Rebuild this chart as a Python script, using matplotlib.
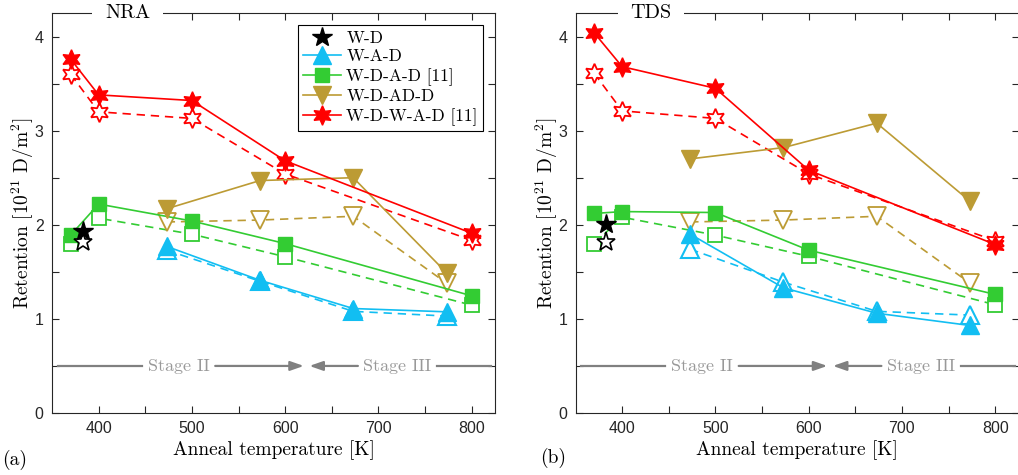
import matplotlib
matplotlib.use("Agg")
import matplotlib.pyplot as plt

plt.rcParams['mathtext.fontset'] = 'cm'
plt.rcParams['axes.formatter.use_mathtext'] = True

# ---------------- data ----------------
temp_wd = [383]
temp_wwad = [370, 400, 500, 600, 800]
temp_wdad = [370, 400, 500, 600, 800]
temp_wad = [473, 573, 673, 773]
temp_wdadd = [473, 573, 673, 773]

# NRA (panel a)
nra_wd_fill = [1.93]
nra_wd_open = [1.82]
nra_wad_fill = [1.77, 1.41, 1.11, 1.075]
nra_wad_open = [1.73, 1.40, 1.08, 1.03]
nra_wdad_fill = [1.89, 2.22, 2.04, 1.80, 1.245]
nra_wdad_open = [1.80, 2.07, 1.90, 1.66, 1.146]
nra_wdadd_fill = [2.17, 2.47, 2.50, 1.49]
nra_wdadd_open = [2.03, 2.05, 2.09, 1.38]
nra_wwad_fill = [3.76, 3.38, 3.32, 2.68, 1.91]
nra_wwad_open = [3.60, 3.20, 3.13, 2.54, 1.835]

# TDS (panel b)
tds_wd_fill = [2.01]
tds_wd_open = [1.82]
tds_wad_fill = [1.90, 1.33, 1.06, 0.93]
tds_wad_open = [1.74, 1.39, 1.08, 1.04]
tds_wdad_fill = [2.12, 2.14, 2.13, 1.73, 1.26]
tds_wdad_open = [1.80, 2.08, 1.89, 1.665, 1.15]
tds_wdadd_fill = [2.70, 2.82, 3.08, 2.25]
tds_wdadd_open = [2.03, 2.05, 2.09, 1.38]
tds_wwad_fill = [4.04, 3.68, 3.45, 2.58, 1.79]
tds_wwad_open = [3.61, 3.21, 3.13, 2.54, 1.83]

labels = ['W-D', 'W-A-D', 'W-D-A-D [11]', 'W-D-AD-D', 'W-D-W-A-D [11]']
titles = ['NRA', 'TDS']
panel_tags = ['(a)', '(b)']

# ---------------- style ----------------
c_black = 'black'
c_cyan = '#12BEF2'
c_green = '#33CC33'
c_gold = '#BC9B34'
c_red = '#FF0000'
gray_line = '#808080'
gray_text = '#999999'
serif = 'cmr10'
hexagram = (6, 1, 0)

fig = plt.figure(figsize=(10.18, 4.75), dpi=100)
ax_a = fig.add_axes([52/1018, 62/475, 443/1018, 400/475])
ax_b = fig.add_axes([575.5/1018, 62/475, 443/1018, 400/475])

datasets = [
    (nra_wd_fill, nra_wd_open, nra_wad_fill, nra_wad_open, nra_wdad_fill, nra_wdad_open,
     nra_wdadd_fill, nra_wdadd_open, nra_wwad_fill, nra_wwad_open),
    (tds_wd_fill, tds_wd_open, tds_wad_fill, tds_wad_open, tds_wdad_fill, tds_wdad_open,
     tds_wdadd_fill, tds_wdadd_open, tds_wwad_fill, tds_wwad_open),
]

lw = 1.2
dash = (0, (5, 3.5))

for i, (ax, d) in enumerate(zip([ax_a, ax_b], datasets)):
    (wd_f, wd_o, wad_f, wad_o, wdad_f, wdad_o, wdadd_f, wdadd_o, wwad_f, wwad_o) = d
    # dashed / open series
    ax.plot(temp_wad, wad_o, ls=dash, color=c_cyan, lw=lw, marker='^', ms=13,
            mfc='white', mec=c_cyan, mew=1.5, zorder=3)
    ax.plot(temp_wdad, wdad_o, ls=dash, color=c_green, lw=lw, marker='s', ms=10,
            mfc='white', mec=c_green, mew=1.3, zorder=3)
    ax.plot(temp_wdadd, wdadd_o, ls=dash, color=c_gold, lw=lw, marker='v', ms=13,
            mfc='white', mec=c_gold, mew=1.3, zorder=3)
    ax.plot(temp_wwad, wwad_o, ls=dash, color=c_red, lw=lw, marker=hexagram, ms=14,
            mfc='white', mec=c_red, mew=1.3, zorder=3)
    # solid / filled series
    h2, = ax.plot(temp_wad, wad_f, ls='-', color=c_cyan, lw=lw, marker='^', ms=13,
                  mfc=c_cyan, mec=c_cyan, zorder=4)
    h3, = ax.plot(temp_wdad, wdad_f, ls='-', color=c_green, lw=lw, marker='s', ms=10,
                  mfc=c_green, mec=c_green, zorder=4)
    h4, = ax.plot(temp_wdadd, wdadd_f, ls='-', color=c_gold, lw=lw, marker='v', ms=13,
                  mfc=c_gold, mec=c_gold, zorder=4)
    h5, = ax.plot(temp_wwad, wwad_f, ls='-', color=c_red, lw=lw, marker=hexagram, ms=14,
                  mfc=c_red, mec=c_red, zorder=4)
    ax.plot(temp_wd, wd_o, ls='none', marker='*', ms=14, mfc='white', mec=c_black,
            mew=1.2, zorder=5)
    h1, = ax.plot(temp_wd, wd_f, ls='none', marker='*', ms=15, mfc=c_black,
                  mec=c_black, zorder=5)

    ax.set_xlim(350, 825)
    ax.set_ylim(0, 4.25)
    ax.set_xticks([400, 450, 500, 550, 600, 650, 700, 750, 800])
    ax.set_xticklabels(['400', '', '500', '', '600', '', '700', '', '800'])
    ax.set_yticks([0, 0.5, 1, 1.5, 2, 2.5, 3, 3.5, 4])
    ax.set_yticklabels(['0', '', '1', '', '2', '', '3', '', '4'])
    ax.tick_params(direction='in', top=True, right=True, length=5, width=0.8,
                   color='#262626', labelsize=11.5, labelcolor='#262626', pad=6)
    for lab in ax.get_xticklabels() + ax.get_yticklabels():
        lab.set_fontfamily('Liberation Sans')
    for sp in ax.spines.values():
        sp.set_color('#262626')
        sp.set_linewidth(0.8)

    ax.set_xlabel('Anneal temperature [K]', fontfamily=serif, fontsize=14,
                  labelpad=3)
    ax.set_ylabel(r'Retention [$10^{21}$ D/m$^2$]', fontfamily=serif, fontsize=14,
                  labelpad=-1)

    # title embedded in top spine
    ax.text(431, 4.25, titles[i], fontfamily=serif, fontsize=14.5, ha='center',
            va='center', zorder=10, clip_on=False,
            bbox=dict(facecolor='white', edgecolor='none', pad=9))

    # stage annotations
    astyle = '-|>,head_length=0.8,head_width=0.28'
    ax.plot([356, 446], [0.5, 0.5], color=gray_line, lw=1.6, zorder=2)
    ax.annotate('', xy=(620, 0.5), xytext=(525, 0.5),
                arrowprops=dict(arrowstyle=astyle, color=gray_line, lw=1.6,
                                shrinkA=0, shrinkB=0),
                zorder=2)
    ax.annotate('', xy=(626, 0.5), xytext=(678, 0.5),
                arrowprops=dict(arrowstyle=astyle, color=gray_line, lw=1.6,
                                shrinkA=0, shrinkB=0),
                zorder=2)
    ax.plot([763, 821], [0.5, 0.5], color=gray_line, lw=1.6, zorder=2)
    ax.text(486, 0.5, 'Stage II', fontfamily=serif, fontsize=13, color=gray_text,
            ha='center', va='center')
    ax.text(720, 0.5, 'Stage III', fontfamily=serif, fontsize=13, color=gray_text,
            ha='center', va='center')

    if i == 0:
        leg = ax.legend([h1, h2, h3, h4, h5], labels, loc='upper right',
                        prop={'family': serif, 'size': 12.5}, frameon=True,
                        fancybox=False, edgecolor='black', framealpha=1,
                        borderaxespad=0.7, handlelength=2.2, handletextpad=0.3,
                        labelspacing=0.2, borderpad=0.3)
        leg.get_frame().set_linewidth(0.8)
        leg.set_zorder(12)

fig.text(15/1018, 1 - 460/475, panel_tags[0], fontfamily=serif, fontsize=14,
         ha='center', va='center')
fig.text(553/1018, 1 - 458/475, panel_tags[1], fontfamily=serif, fontsize=14,
         ha='center', va='center')

fig.savefig('out.png', dpi=100)
